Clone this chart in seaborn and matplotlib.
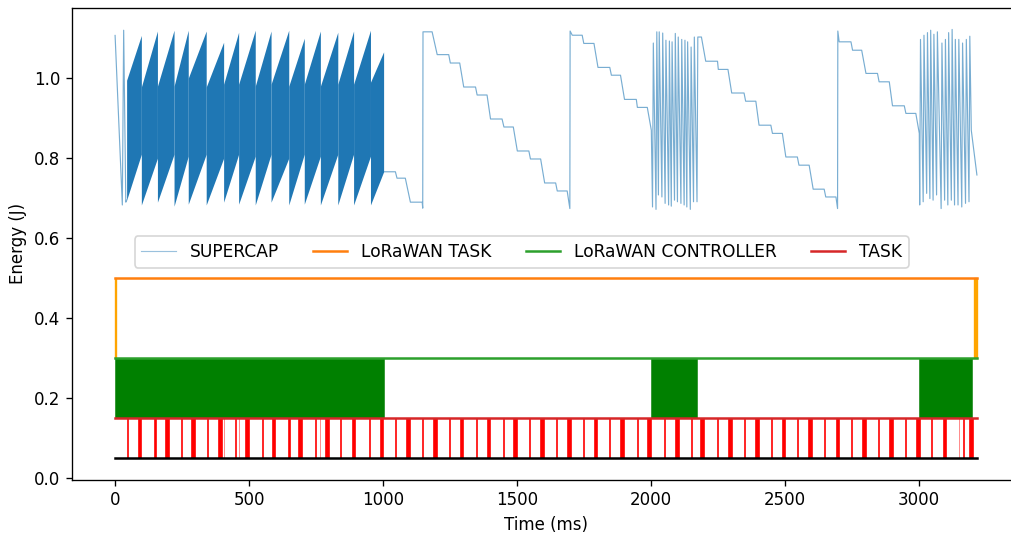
import numpy as np
import pandas as pd
import matplotlib
matplotlib.use("Agg")
import matplotlib.pyplot as plt
import seaborn as sns
from matplotlib.lines import Line2D

# ---------------- data (times in ms, energy in J) ----------------
# supercap: first sparse piece
cap_a_t = [0, 27, 32, 40]
cap_a_v = [1.107, 0.683, 1.12, 0.69]

# supercap: dense oscillating region (envelope per tooth)
tooth_edges = [43, 98, 158, 220, 273, 340, 405, 461, 523, 582, 648, 706, 766, 831, 890, 953, 1002]
tooth_top_start = [0.995, 0.978, 0.98, 0.98, 1.0, 0.978, 0.985, 0.985, 0.98, 0.985, 0.98, 0.985, 0.98, 0.985, 0.985, 0.99]
tooth_top_end = [1.107, 1.118, 1.12, 1.12, 1.118, 1.09, 1.115, 1.12, 1.118, 1.12, 1.10, 1.118, 1.115, 1.118, 1.12, 1.066]
tooth_bot_start = [0.695, 0.683, 0.69, 0.68, 0.685, 0.683, 0.69, 0.685, 0.683, 0.69, 0.683, 0.685, 0.683, 0.683, 0.683, 0.683]
tooth_bot_end = [0.81, 0.80, 0.81, 0.805, 0.81, 0.80, 0.81, 0.805, 0.81, 0.80, 0.81, 0.805, 0.81, 0.81, 0.805, 0.766]

# supercap: staircase 1000-2000
cap_b_t = [1002, 1046, 1052, 1083, 1102, 1146, 1148, 1149, 1183, 1202, 1245, 1251, 1286, 1301, 1345,
           1351, 1388, 1401, 1444, 1451, 1486, 1501, 1544, 1550, 1588, 1603, 1644, 1650, 1687, 1697,
           1698, 1706, 1743, 1749, 1787, 1802, 1846, 1852, 1886, 1901, 1945, 1949, 1986, 2001]
cap_b_v = [0.766, 0.766, 0.75, 0.75, 0.69, 0.69, 0.675, 1.116, 1.116, 1.059, 1.059, 1.038, 1.038, 0.978, 0.978,
           0.958, 0.958, 0.898, 0.898, 0.878, 0.878, 0.818, 0.818, 0.798, 0.798, 0.738, 0.738, 0.718, 0.718, 0.674,
           1.118, 1.1075, 1.1075, 1.087, 1.087, 1.027, 1.027, 1.0075, 1.0075, 0.947, 0.947, 0.927, 0.927, 0.87]

# supercap: oscillation burst around 2000-2175
osc2_t = [2007, 2020, 2029, 2042, 2054, 2067, 2077, 2089, 2100, 2113, 2125, 2135, 2148, 2160, 2173]
osc2_top = [1.088, 1.116, 1.116, 1.113, 1.095, 1.093, 1.091, 1.112, 1.103, 1.097, 1.095, 1.091, 1.078, 1.103, 1.103]
osc2_bot = [0.678, 0.672, 0.708, 0.703, 0.687, 0.683, 0.68, 0.695, 0.691, 0.687, 0.683, 0.678, 0.672, 0.691, 0.691]

# supercap: staircase 2175-3000
cap_c_t = [2175, 2188, 2204, 2248, 2251, 2287, 2301, 2347, 2353, 2391, 2403, 2447, 2453, 2490, 2503,
           2546, 2552, 2590, 2605, 2646, 2652, 2690, 2696, 2697, 2702, 2746, 2752, 2786, 2802, 2845,
           2851, 2889, 2901, 2945, 2951, 2988, 3001]
cap_c_v = [1.103, 1.103, 1.0425, 1.0425, 1.022, 1.022, 0.963, 0.963, 0.9425, 0.9425, 0.8825, 0.8825, 0.862, 0.862, 0.803,
           0.803, 0.7825, 0.7825, 0.7225, 0.7225, 0.703, 0.703, 0.674, 1.118, 1.091, 1.091, 1.07, 1.07, 1.012, 1.012,
           0.991, 0.991, 0.931, 0.931, 0.912, 0.912, 0.862]

# supercap: oscillation burst around 3000-3190
osc3_t = [3004, 3017, 3030, 3042, 3054, 3067, 3084, 3097, 3109, 3122, 3134, 3147, 3161, 3175, 3188]
osc3_top = [1.097, 1.1075, 1.114, 1.12, 1.11, 1.116, 1.088, 1.097, 1.114, 1.122, 1.097, 1.097, 1.088, 1.097, 1.105]
osc3_bot = [0.683, 0.691, 0.712, 0.699, 0.695, 0.708, 0.674, 0.695, 0.683, 0.695, 0.683, 0.683, 0.678, 0.687, 0.691]

cap_d_t = [3195, 3216]
cap_d_v = [0.87, 0.758]

# task state levels
t_end = 3216
lora_task_level, lora_task_base = 0.5, 0.3
lora_ctrl_level, lora_ctrl_base = 0.3, 0.15
task_level, task_base = 0.15, 0.05

lora_task_spans = [(0, 2), (3205, 3216)]
lora_ctrl_spans = [(0, 1002), (1998, 2173), (3001, 3196)]

task_thin = [45, 147, 246, 344, 448, 548, 647, 747, 840, 946, 1046, 1146, 1246, 1346, 1446, 1546, 1646,
             1746, 1843, 1949, 2048, 2148, 2247, 2346, 2446, 2546, 2646, 2746, 2846, 2948, 3045, 3163]
task_thick = [91, 193, 292, 392, 492, 591, 691, 791, 890, 994, 1093, 1193, 1293, 1393, 1493, 1593, 1693,
              1793, 1893, 1992, 2096, 2191, 2294, 2394, 2494, 2593, 2696, 2796, 2895, 2995, 3095, 3194]
task_light = [155, 407, 464, 720, 766, 2011, 3151]

# ---------------- figure ----------------
W, H, DPI = 1011, 533, 120
fig = plt.figure(figsize=(W / DPI, H / DPI), dpi=DPI)
ax = fig.add_axes([72 / W, 53.5 / H, 948 / W, 471.5 / H])
ax.spines["right"].set_visible(False)

blue = "#1f77b4"

# build supercap line pieces (segments separated by units)
def interleave(ts, tops, bots):
    tt, vv = [], []
    for t, u, b in zip(ts, tops, bots):
        tt += [t - 1.5, t + 1.5]
        vv += [b, u]
    return tt, vv

o2t, o2v = interleave(osc2_t, osc2_top, osc2_bot)
o3t, o3v = interleave(osc3_t, osc3_top, osc3_bot)
seg1_t = cap_a_t + [tooth_edges[0]]
seg1_v = cap_a_v + [tooth_bot_start[0]]
seg2_t = cap_b_t + o2t + cap_c_t + o3t + cap_d_t
seg2_v = cap_b_v + o2v + cap_c_v + o3v + cap_d_v
cap_df = pd.DataFrame({
    "t": seg1_t + seg2_t,
    "v": seg1_v + seg2_v,
    "seg": [0] * len(seg1_t) + [1] * len(seg2_t),
})
sns.lineplot(data=cap_df, x="t", y="v", units="seg", estimator=None, sort=False,
             color=blue, lw=0.7, alpha=0.6, ax=ax, legend=False)

# dense region teeth as filled envelopes
for i in range(len(tooth_top_start)):
    x0, x1 = tooth_edges[i], tooth_edges[i + 1]
    ax.fill_between([x0, x1], [tooth_bot_start[i], tooth_bot_end[i]],
                    [tooth_top_start[i], tooth_top_end[i]], color=blue, lw=0)

# state fills
for a, b in lora_task_spans:
    ax.fill_between([a, b], lora_task_base, lora_task_level, color="orange", lw=0.8)
for a, b in lora_ctrl_spans:
    ax.fill_between([a, b], lora_ctrl_base, lora_ctrl_level, color="green", lw=0.6, edgecolor="#3a9a3a")
for s in task_thin:
    ax.fill_between([s, s + 4], task_base, task_level, color="red", lw=0.4)
for s in task_thick:
    ax.fill_between([s - 7, s + 7], task_base, task_level, color="red", lw=0.4)
for s in task_light:
    ax.fill_between([s, s + 1.5], task_base, task_level, color="red", alpha=0.45, lw=0)

# state lines
sns.lineplot(x=[0, t_end], y=[lora_task_level] * 2, color="#ff7f0e", lw=1.5, ax=ax)
sns.lineplot(x=[0, t_end], y=[lora_ctrl_level] * 2, color="#2ca02c", lw=1.5, ax=ax)
sns.lineplot(x=[0, t_end], y=[task_level] * 2, color="#d62728", lw=1.5, ax=ax)
sns.lineplot(x=[0, t_end], y=[task_base] * 2, color="black", lw=1.5, ax=ax)

ax.set_xlabel("Time (ms)")
ax.set_ylabel("Energy (J)")

handles = [
    Line2D([], [], color=blue, lw=0.7, alpha=0.45),
    Line2D([], [], color="#ff7f0e", lw=1.5),
    Line2D([], [], color="#2ca02c", lw=1.5),
    Line2D([], [], color="#d62728", lw=1.5),
]
labels = ["SUPERCAP", "LoRaWAN TASK", "LoRaWAN CONTROLLER", "TASK"]
ax.legend(handles, labels, loc="center", bbox_to_anchor=(0.4744, 0.4825), ncol=4,
          prop={"size": 10.3})

fig.savefig("out.png", dpi=DPI)
